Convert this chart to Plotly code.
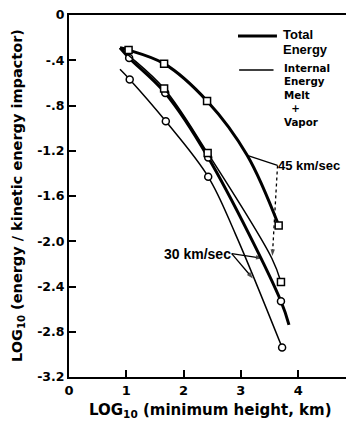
import plotly.graph_objects as go

# ---- data ----
# 45 km/sec, total energy (thick line, squares)
t45_x = [0.89, 1.04, 1.66, 2.41, 3.11, 3.66]
t45_y = [-0.29, -0.31, -0.43, -0.76, -1.24, -1.86]
t45_mx = [1.04, 1.66, 2.41, 3.66]
t45_my = [-0.31, -0.43, -0.76, -1.86]

# 45 km/sec, internal energy (thin line, squares)
i45_x = [0.89, 1.05, 1.66, 2.42, 3.54, 3.70]
i45_y = [-0.29, -0.36, -0.65, -1.22, -2.15, -2.36]
i45_mx = [1.66, 2.42, 3.70]
i45_my = [-0.65, -1.22, -2.36]

# 30 km/sec, total energy (thick line, circles)
t30_x = [0.89, 1.05, 1.68, 2.43, 3.70, 3.84]
t30_y = [-0.29, -0.38, -0.69, -1.26, -2.53, -2.74]
t30_mx = [1.05, 1.68, 2.43, 3.70]
t30_my = [-0.38, -0.69, -1.26, -2.53]

# 30 km/sec, internal energy (thin line, circles)
i30_x = [0.89, 1.06, 1.69, 2.43, 2.90, 3.72]
i30_y = [-0.48, -0.57, -0.94, -1.43, -1.93, -2.94]
i30_mx = [1.06, 1.69, 2.43, 3.72]
i30_my = [-0.57, -0.94, -1.43, -2.94]

x_ticks = [0, 1, 2, 3, 4]
x_tick_labels = ["0", "1", "2", "3", "4"]
y_ticks = [0, -0.4, -0.8, -1.2, -1.6, -2.0, -2.4, -2.8, -3.2]
y_tick_labels = ["0", "-.4", "-.8", "-1.2", "-1.6", "-2.0", "-2.4", "-2.8", "-3.2"]

# leader lines for the velocity labels: (from, to) in data units
lead45_solid = ([3.64, 3.11], [-1.33, -1.24])
lead45_dot = ([3.64, 3.55], [-1.33, -2.13])
lead30_a = ([2.84, 3.38], [-2.11, -2.15])
lead30_b = ([2.84, 3.21], [-2.11, -2.33])

FONT = "DejaVu Sans"
LFONT = "Liberation Sans"

fig = go.Figure()

def add_series(x, y, mx, my, width, symbol):
    fig.add_trace(go.Scatter(x=x, y=y, mode="lines",
                             line=dict(color="black", width=width, shape="spline"),
                             hoverinfo="skip", showlegend=False))
    fig.add_trace(go.Scatter(x=mx, y=my, mode="markers",
                             marker=dict(symbol=symbol, size=7, color="white",
                                         line=dict(color="black", width=1.5)),
                             showlegend=False))

add_series(i30_x, i30_y, i30_mx, i30_my, 1.5, "circle")
add_series(t30_x, t30_y, t30_mx, t30_my, 3, "circle")
add_series(i45_x, i45_y, i45_mx, i45_my, 1.5, "square")
add_series(t45_x, t45_y, t45_mx, t45_my, 3, "square")

def add_leader(xy, arrow, dash="solid"):
    fig.add_trace(go.Scatter(
        x=xy[0], y=xy[1], mode="lines+markers" if arrow else "lines",
        line=dict(color="black", width=1.3, dash=dash),
        marker=dict(symbol="arrow", size=[0, 7], angleref="previous", color="black",
                    line=dict(width=0)),
        hoverinfo="skip", showlegend=False))

add_leader(lead45_solid, False)
add_leader(lead45_dot, True, "dot")
add_leader(lead30_a, True)
add_leader(lead30_b, True)

tf = dict(family=LFONT, size=13, color="black")
annotations = [
    # legend texts
    dict(x=3.70, y=-0.17, text="<b>Total</b>", xanchor="left", yanchor="middle", showarrow=False, font=tf),
    dict(x=3.70, y=-0.305, text="<b>Energy</b>", xanchor="left", yanchor="middle", showarrow=False, font=tf),
    dict(x=3.72, y=-0.71, text="<b>Internal<br>Energy<br>Melt<br>&nbsp;&nbsp;+<br>Vapor</b>",
         xanchor="left", yanchor="middle", align="left", showarrow=False,
         font=dict(family=FONT, size=10.3, color="black")),
    # velocity labels
    dict(x=3.62, y=-1.33, text="<b>45 km/sec</b>", xanchor="left", yanchor="middle", showarrow=False,
         font=dict(family=LFONT, size=13, color="black")),
    dict(x=2.86, y=-2.11, text="<b>30 km/sec</b>", xanchor="right", yanchor="middle", showarrow=False,
         font=dict(family=LFONT, size=14, color="black")),
    # axis titles
    dict(xref="paper", yref="paper", x=0.5, y=0, yshift=-33, xanchor="center", yanchor="middle",
         text="<b>LOG<sub>10</sub> (minimum height, km)</b>", showarrow=False,
         font=dict(family=FONT, size=15, color="black")),
    dict(xref="paper", yref="paper", x=0, y=0.5, xshift=-51, xanchor="center", yanchor="middle",
         textangle=-90, text="<b>LOG<sub>10</sub> (energy / kinetic energy impactor)</b>", showarrow=False,
         font=dict(family=FONT, size=14.5, color="black")),
]

shapes = [
    # legend line samples
    dict(type="line", x0=2.95, x1=3.63, y0=-0.186, y1=-0.186, line=dict(color="black", width=3)),
    dict(type="line", x0=2.97, x1=3.57, y0=-0.487, y1=-0.487, line=dict(color="black", width=1.5)),
]

# page has an 8px body margin: size the figure so the plot lands where the reference has it
fig.update_layout(
    width=346, height=418,
    margin=dict(l=61, r=2, t=7, b=49),
    paper_bgcolor="white", plot_bgcolor="white",
    font=dict(family=FONT, color="black"),
    showlegend=False,
    annotations=annotations,
    shapes=shapes,
    xaxis=dict(range=[0, 4.94], tickvals=x_ticks, ticktext=["<b>%s</b>" % t for t in x_tick_labels],
               ticks="inside", ticklen=7, tickwidth=1.5, tickcolor="black", automargin=False,
               ticklabeloverflow="allow",
               showline=True, linecolor="black", linewidth=2, mirror=True,
               showgrid=False, zeroline=False, tickfont=dict(family=FONT, size=13, color="black")),
    yaxis=dict(range=[-3.2, 0], tickvals=y_ticks, ticktext=["<b>%s</b>" % t for t in y_tick_labels],
               ticks="inside", ticklen=7, tickwidth=1.5, tickcolor="black", automargin=False,
               ticklabeloverflow="allow",
               showline=True, linecolor="black", linewidth=2, mirror=True,
               showgrid=False, zeroline=False, tickfont=dict(family=FONT, size=12.5, color="black")),
)

fig.write_html("out.html")
